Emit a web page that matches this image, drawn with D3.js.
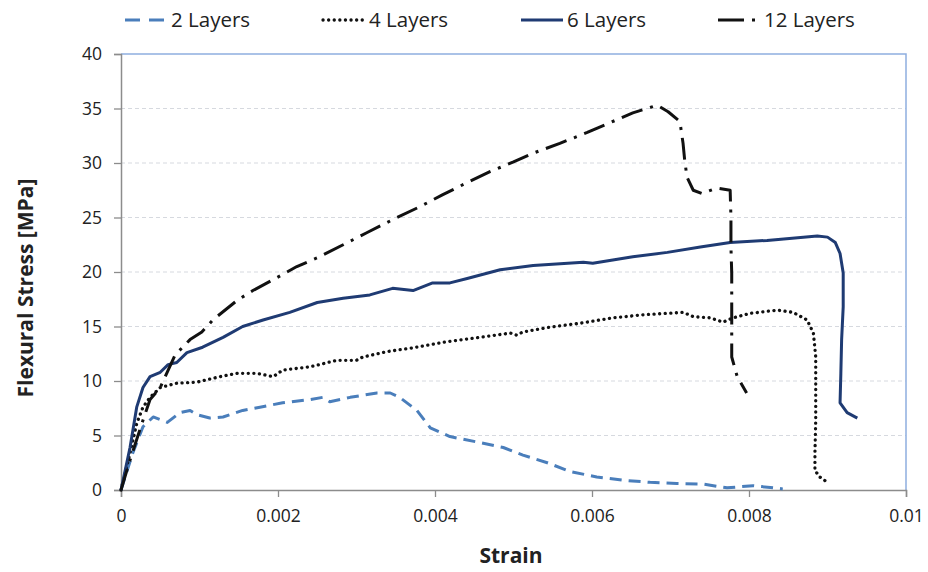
<!DOCTYPE html>
<html>
<head>
<meta charset="utf-8">
<script src="https://cdn.jsdelivr.net/npm/d3@7"></script>
<style>
  body { margin: 0; background: #fff; }
  text { font-family: "Open Sans", "Liberation Sans", sans-serif; fill: #222; }
  .grid line { stroke: #d6d9df; stroke-dasharray: 4,3; }
</style>
</head>
<body>
<div id="wrapper"></div>
<script>
// DATA
const seriesNames = ["2 Layers", "4 Layers", "6 Layers", "12 Layers"]

const strain2 = [0, 0.00015, 0.00028, 0.00041, 0.00059, 0.00075, 0.00088, 0.00097, 0.00113, 0.0013, 0.00155, 0.00177, 0.00206, 0.00241, 0.00257, 0.00266, 0.00292, 0.00326, 0.00343, 0.00355, 0.00377, 0.00394, 0.00419, 0.00454, 0.00487, 0.00512, 0.00543, 0.00572, 0.00606, 0.00639, 0.00674, 0.00708, 0.00741, 0.00772, 0.00805, 0.00843]
const stress2 = [0, 3.4, 5.8, 6.7, 6.2, 7.1, 7.3, 6.9, 6.6, 6.7, 7.3, 7.6, 8.0, 8.3, 8.5, 8.1, 8.5, 8.9, 8.9, 8.5, 7.3, 5.7, 4.9, 4.4, 3.9, 3.2, 2.5, 1.7, 1.2, 0.9, 0.7, 0.6, 0.55, 0.2, 0.4, 0.1]

const strain4 = [0, 0.000115, 0.0002, 0.00028, 0.00037, 0.0005, 0.00071, 0.00097, 0.00126, 0.00148, 0.00173, 0.00194, 0.00206, 0.00241, 0.00275, 0.003, 0.00308, 0.00339, 0.00368, 0.00415, 0.00457, 0.00496, 0.00504, 0.00512, 0.00543, 0.00585, 0.00627, 0.0067, 0.00716, 0.00729, 0.0075, 0.00767, 0.0078, 0.00801, 0.00836, 0.00856, 0.00874, 0.00882, 0.00885, 0.00885, 0.00885, 0.00884, 0.00884, 0.0089, 0.009]
const stress4 = [0, 3.4, 6.1, 7.6, 8.5, 9.4, 9.8, 9.9, 10.4, 10.7, 10.7, 10.4, 11.0, 11.3, 11.9, 11.9, 12.2, 12.7, 13.0, 13.6, 14.0, 14.4, 14.2, 14.5, 14.9, 15.3, 15.8, 16.1, 16.3, 15.9, 15.8, 15.4, 15.8, 16.2, 16.5, 16.3, 15.6, 14.4, 12.2, 9.2, 6.4, 3.4, 1.8, 1.2, 0.7]

const strain6 = [0, 0.000115, 0.0002, 0.00028, 0.00037, 0.0005, 0.0006, 0.00071, 0.00084, 0.00104, 0.0013, 0.00155, 0.00181, 0.00215, 0.0025, 0.00283, 0.00317, 0.00346, 0.00372, 0.00397, 0.00419, 0.00441, 0.00483, 0.00525, 0.00589, 0.00601, 0.00652, 0.00696, 0.00738, 0.00776, 0.00823, 0.00887, 0.009, 0.0091, 0.00916, 0.0092, 0.0092, 0.00918, 0.00917, 0.00916, 0.00925, 0.00938]
const stress6 = [0, 3.9, 7.6, 9.4, 10.4, 10.8, 11.5, 11.7, 12.6, 13.1, 14.0, 15.0, 15.6, 16.3, 17.2, 17.6, 17.9, 18.5, 18.3, 19.0, 19.0, 19.4, 20.2, 20.6, 20.9, 20.8, 21.4, 21.8, 22.3, 22.7, 22.9, 23.3, 23.2, 22.7, 21.7, 19.9, 16.8, 13.8, 10.7, 8.0, 7.1, 6.6]

const strain12 = [0, 0.000115, 0.00028, 0.00037, 0.0005, 0.00069, 0.00088, 0.00103, 0.00117, 0.00148, 0.00168, 0.00199, 0.00224, 0.0025, 0.00283, 0.00313, 0.00346, 0.00381, 0.0041, 0.00441, 0.0047, 0.005, 0.00525, 0.00559, 0.00594, 0.00623, 0.00652, 0.00683, 0.00697, 0.00712, 0.00716, 0.00718, 0.00721, 0.00729, 0.0074, 0.00759, 0.00776, 0.00777, 0.00777, 0.00778, 0.00778, 0.00778, 0.00778, 0.00785, 0.00797]
const stress12 = [0, 2.75, 6.4, 8.3, 9.4, 12.4, 13.8, 14.5, 15.6, 17.4, 18.3, 19.5, 20.5, 21.3, 22.5, 23.6, 24.8, 26.0, 27.1, 28.2, 29.2, 30.1, 30.9, 31.8, 32.8, 33.7, 34.6, 35.3, 34.7, 33.8, 31.8, 30.3, 28.7, 27.5, 27.2, 27.7, 27.5, 25.0, 22.3, 19.9, 16.8, 14.7, 12.2, 10.4, 8.9]

const xTicks = [0, 0.002, 0.004, 0.006, 0.008, 0.01]
const yTicks = [0, 5, 10, 15, 20, 25, 30, 35, 40]

async function drawChart() {

    const series = [
        { name: seriesNames[0], x: strain2,  y: stress2,  color: "#4a7ebb", dash: "12,7",     legendDash: "15,9",   cap: "butt",  width: 3 },
        { name: seriesNames[1], x: strain4,  y: stress4,  color: "#111",    dash: "0.1,5.5",  legendDash: "0.1,5.5", cap: "round", width: 3.3 },
        { name: seriesNames[2], x: strain6,  y: stress6,  color: "#1f3b73", dash: null,       legendDash: null,     cap: "butt",  width: 3 },
        { name: seriesNames[3], x: strain12, y: stress12, color: "#111",    dash: "22,8,3,8", legendDash: "26,8,3,20", cap: "butt",  width: 3 },
    ]

    let dimensions = {
        width: 928,
        height: 572,
        margin: { top: 54, right: 22, bottom: 82, left: 121 }
    }
    dimensions.boundedWidth = dimensions.width - dimensions.margin.left - dimensions.margin.right
    dimensions.boundedHeight = dimensions.height - dimensions.margin.top - dimensions.margin.bottom

    const wrapper = d3.select('#wrapper')
        .append('svg')
        .attr('width', dimensions.width)
        .attr('height', dimensions.height)

    const bounds = wrapper.append('g')
        .attr('transform', `translate(${dimensions.margin.left},${dimensions.margin.top})`)

    // SCALES
    const xScale = d3.scaleLinear()
        .domain([0, 0.01])
        .range([0, dimensions.boundedWidth])

    const yScale = d3.scaleLinear()
        .domain([0, 40])
        .range([dimensions.boundedHeight, 0])

    // gridlines (skip 0 and 40)
    bounds.append('g')
        .attr('class', 'grid')
        .selectAll('line')
        .data(yTicks.filter(d => d > 0 && d < 40))
        .join('line')
        .attr('x1', 0)
        .attr('x2', dimensions.boundedWidth)
        .attr('y1', d => yScale(d))
        .attr('y2', d => yScale(d))

    // plot area border, top and right in light blue
    bounds.append('path')
        .attr('d', `M0,${yScale(40)}H${xScale(0.01)}V${yScale(0)}`)
        .attr('fill', 'none')
        .attr('stroke', '#8eaee0')
        .attr('stroke-width', 1.5)

    // AXES
    const xAxisGenerator = d3.axisBottom(xScale)
        .tickValues(xTicks)
        .tickFormat(d => d === 0 ? "0" : d3.format("")(+d.toFixed(3)))
        .tickSizeOuter(0)
        .tickSize(7)
        .tickPadding(13)

    const xAxis = bounds.append('g')
        .attr('transform', `translate(0,${dimensions.boundedHeight})`)
        .call(xAxisGenerator)

    const yAxisGenerator = d3.axisLeft(yScale)
        .tickValues(yTicks)
        .tickSizeOuter(0)
        .tickSize(7)
        .tickPadding(12)

    const yAxis = bounds.append('g')
        .call(yAxisGenerator)

    ;[xAxis, yAxis].forEach(ax => {
        ax.select('.domain').attr('stroke', '#8c8c8c').attr('stroke-width', 1.5)
        ax.selectAll('.tick line').attr('stroke', '#8c8c8c').attr('stroke-width', 1.3)
        ax.selectAll('.tick text')
            .attr('fill', '#222')
            .style('font-size', '17.5px')
            .style('font-family', '"Open Sans", sans-serif')
    })

    // axis titles
    wrapper.append('text')
        .attr('x', 511)
        .attr('y', 563)
        .attr('text-anchor', 'middle')
        .style('font-size', '21px')
        .style('font-weight', 'bold')
        .text('Strain')

    wrapper.append('text')
        .attr('transform', `translate(33,288) rotate(-90)`)
        .attr('text-anchor', 'middle')
        .style('font-size', '21px')
        .style('font-weight', 'bold')
        .text('Flexural Stress [MPa]')

    // LINES
    const lineGenerator = d3.line()
        .x(d => xScale(d[0]))
        .y(d => yScale(d[1]))

    series.forEach(s => {
        bounds.append('path')
            .datum(d3.zip(s.x, s.y))
            .attr('d', lineGenerator)
            .attr('fill', 'none')
            .attr('stroke', s.color)
            .attr('stroke-width', s.width)
            .attr('stroke-dasharray', s.dash)
            .attr('stroke-linecap', s.cap)
            .attr('stroke-linejoin', 'round')
    })

    // LEGEND
    const legendX = [125, 323, 521, 718]
    const legend = wrapper.append('g')
        .selectAll('g')
        .data(series)
        .join('g')
        .attr('transform', (d, i) => `translate(${legendX[i]},20)`)

    legend.append('line')
        .attr('x1', 0)
        .attr('x2', 42)
        .attr('stroke', d => d.color)
        .attr('stroke-width', d => d.width)
        .attr('stroke-dasharray', d => d.legendDash)
        .attr('stroke-linecap', d => d.cap)

    legend.append('text')
        .attr('x', 46)
        .attr('dy', '0.35em')
        .style('font-size', '20.5px')
        .text(d => d.name)
}
drawChart()
</script>
</body>
</html>
